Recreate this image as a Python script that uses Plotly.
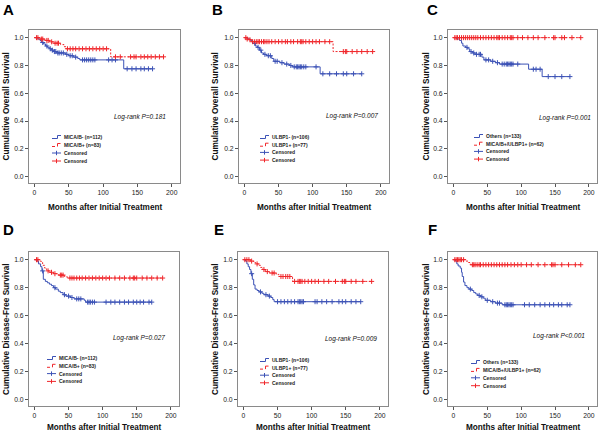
import plotly.graph_objects as go

W, H = 600, 432

# ---------------- data ----------------
month_ticks = [0, 50, 100, 150, 200]
surv_ticks = [0.0, 0.2, 0.4, 0.6, 0.8, 1.0]

os_title = "Cumulative Overall Survival"
dfs_title = "Cumulative Disease-Free Survival"
x_title = "Months after Initial Treatment"
panel_letters = ["A", "B", "C", "D", "E", "F"]
logrank_texts = ["Log-rank P=0.181", "Log-rank P=0.007", "Log-rank P=0.001",
                 "Log-rank P=0.027", "Log-rank P=0.009", "Log-rank P<0.001"]

mica_labels = ["MICA/B- (n=112)", "MICA/B+ (n=83)"]
ulbp_labels = ["ULBP1- (n=106)", "ULBP1+ (n=77)"]
combo_labels = ["Others (n=133)", "MICA/B+/ULBP1+ (n=62)"]

# Panel A (OS, MICA/B)
A_neg_t = [5, 8, 10, 13, 16, 19, 22, 25, 28, 32, 45, 50, 57, 63, 66, 130]
A_neg_s = [0.99, 0.98, 0.965, 0.955, 0.94, 0.93, 0.92, 0.91, 0.90, 0.89, 0.88, 0.87, 0.86, 0.85, 0.84, 0.776]
A_neg_c = [12, 18, 23, 26, 29, 31, 34, 36, 39, 42, 47, 52, 55, 60, 70, 73, 76, 79, 82, 85, 88, 108, 113, 118,
           135, 142, 148, 155, 160, 166, 172]
A_pos_t = [8, 15, 22, 28, 38, 43, 46, 111]
A_pos_s = [0.99, 0.98, 0.97, 0.96, 0.95, 0.935, 0.92, 0.862]
A_pos_c = [3, 5, 10, 12, 18, 20, 25, 30, 33, 35, 48, 52, 56, 60, 65, 70, 75, 80, 85, 90, 95, 100, 105,
           118, 125, 140, 145, 148, 155, 160, 165, 170, 176, 182, 188]

# Panel B (OS, ULBP1)
B_neg_t = [5, 9, 12, 16, 19, 22, 25, 28, 32, 40, 43, 52, 58, 66, 70, 111]
B_neg_s = [0.99, 0.98, 0.96, 0.94, 0.93, 0.91, 0.89, 0.88, 0.87, 0.85, 0.83, 0.82, 0.81, 0.80, 0.79, 0.74]
B_neg_c = [15, 20, 24, 30, 35, 38, 45, 48, 55, 62, 68, 73, 76, 78, 80, 82, 84, 87, 90, 105,
           115, 125, 135, 145, 150, 160, 172]
B_pos_t = [3, 6, 10, 130]
B_pos_s = [0.99, 0.985, 0.971, 0.90]
B_pos_c = [2, 4, 8, 12, 15, 18, 20, 22, 25, 28, 30, 33, 36, 40, 45, 50, 55, 60, 63, 68, 72, 78, 82, 84,
           86, 90, 95, 100, 105, 110, 118, 125, 145, 148, 150, 158, 165, 172, 180, 188]

# Panel C (OS, combined)
C_neg_t = [5, 9, 12, 14, 18, 21, 24, 28, 32, 42, 45, 55, 62, 68, 111, 131]
C_neg_s = [0.99, 0.98, 0.96, 0.94, 0.93, 0.92, 0.90, 0.89, 0.88, 0.86, 0.84, 0.83, 0.82, 0.81, 0.773, 0.72]
C_neg_c = [20, 26, 30, 34, 38, 40, 48, 52, 58, 65, 72, 75, 78, 80, 82, 84, 86, 88, 95,
           118, 122, 128, 140, 150, 160, 172]
C_pos_t = []
C_pos_s = []
C_pos_c = [2, 4, 6, 9, 12, 15, 18, 21, 24, 27, 30, 33, 36, 40, 44, 48, 52, 56, 60, 64, 66, 68, 72, 76,
           80, 84, 86, 88, 95, 102, 110, 118, 125, 135, 148, 150, 160, 164, 175, 188]

# Panel D (DFS, MICA/B)
D_neg_t = [4, 6, 9, 11, 13, 16, 19, 22, 25, 28, 31, 35, 38, 42, 46, 53, 58, 73, 75]
D_neg_s = [0.99, 0.97, 0.95, 0.92, 0.86, 0.845, 0.835, 0.825, 0.815, 0.80, 0.79, 0.775, 0.765, 0.75,
           0.74, 0.73, 0.72, 0.71, 0.697]
D_neg_c = [12, 30, 44, 50, 55, 62, 65, 68, 78, 80, 82, 85, 88, 105, 112, 118, 125, 132, 138, 145,
           150, 155, 160, 168, 172]
D_pos_t = [8, 10, 12, 15, 18, 22, 28, 35, 44, 48]
D_pos_s = [0.99, 0.98, 0.96, 0.94, 0.92, 0.91, 0.90, 0.89, 0.88, 0.869]
D_pos_c = [3, 5, 20, 25, 30, 38, 40, 42, 52, 55, 58, 62, 66, 70, 75, 80, 85, 90, 95, 100, 105, 110,
           118, 125, 132, 140, 145, 147, 150, 158, 165, 172, 180, 188]

# Panel E (DFS, ULBP1)
E_neg_t = [3, 5, 7, 9, 11, 13, 15, 17, 20, 23, 27, 30, 36, 40, 43, 45]
E_neg_s = [0.99, 0.97, 0.95, 0.93, 0.90, 0.86, 0.82, 0.79, 0.78, 0.77, 0.76, 0.75, 0.74, 0.73, 0.715, 0.70]
E_neg_c = [12, 25, 33, 38, 50, 55, 60, 65, 70, 75, 80, 82, 84, 86, 88, 105, 108, 115, 122, 130,
           140, 145, 150, 158, 165, 172]
E_pos_t = [10, 15, 18, 22, 25, 28, 32, 38, 48, 52, 72]
E_pos_s = [0.99, 0.98, 0.97, 0.96, 0.945, 0.93, 0.915, 0.905, 0.895, 0.88, 0.845]
E_pos_c = [2, 5, 8, 12, 20, 30, 35, 42, 45, 55, 58, 62, 65, 68, 75, 80, 82, 84, 86, 90, 95, 100,
           105, 110, 118, 125, 135, 145, 148, 150, 158, 165, 175, 188]

# Panel F (DFS, combined)
F_neg_t = [3, 5, 7, 10, 12, 13, 15, 17, 20, 23, 27, 30, 33, 36, 40, 44, 47, 55, 62, 72]
F_neg_s = [0.99, 0.97, 0.955, 0.94, 0.91, 0.88, 0.84, 0.815, 0.80, 0.79, 0.78, 0.765, 0.755, 0.745,
           0.735, 0.725, 0.71, 0.70, 0.69, 0.678]
F_neg_c = [25, 38, 42, 50, 58, 65, 68, 76, 78, 80, 82, 84, 86, 88, 105, 112, 120, 128, 135, 142,
           148, 155, 160, 168, 172]
F_pos_t = [18, 22, 25]
F_pos_s = [0.99, 0.98, 0.964]
F_pos_c = [2, 4, 6, 8, 10, 12, 15, 28, 30, 32, 35, 38, 40, 44, 48, 52, 56, 60, 64, 68, 72, 76, 80,
           85, 90, 95, 100, 108, 115, 125, 135, 145, 147, 150, 160, 170, 180, 188]

# ---------------- styling / layout ----------------
BLUE = "#3c52b6"
RED = "#f0272b"
FONT = "Liberation Sans, Arial, sans-serif"

# plot boxes in pixels: (left, right, top, bottom)
boxes = [(29, 180, 30, 183), (239, 389, 30, 183), (448, 597, 30, 183),
         (29, 179, 252, 406), (238, 388, 252, 406), (448, 597, 252, 406)]
ytitle_x = [6, 215, 426, 6, 215, 426]
xtitle_y = [207, 207, 207, 427.5, 427.5, 427.5]
letter_pos = [(1, 9), (210, 9), (425, 9), (1, 229), (212, 229), (426, 229)]
logrank_pos = [(168, 117.5), (380, 116), (593, 118), (167, 337.7), (379, 338.7), (587, 336)]
legend_pos = [(52, 137, 8.0), (260, 137, 7.7), (474, 136, 7.7),
              (47, 358, 7.8), (260, 360, 7.6), (471, 362, 7.9)]

panels = [
    (A_neg_t, A_neg_s, A_neg_c, A_pos_t, A_pos_s, A_pos_c, mica_labels, os_title),
    (B_neg_t, B_neg_s, B_neg_c, B_pos_t, B_pos_s, B_pos_c, ulbp_labels, os_title),
    (C_neg_t, C_neg_s, C_neg_c, C_pos_t, C_pos_s, C_pos_c, combo_labels, os_title),
    (D_neg_t, D_neg_s, D_neg_c, D_pos_t, D_pos_s, D_pos_c, mica_labels, dfs_title),
    (E_neg_t, E_neg_s, E_neg_c, E_pos_t, E_pos_s, E_pos_c, ulbp_labels, dfs_title),
    (F_neg_t, F_neg_s, F_neg_c, F_pos_t, F_pos_s, F_pos_c, combo_labels, dfs_title),
]


def px_x(p):
    return p / W


def px_y(p):
    return 1 - p / H


def surv_at(t, ev_t, ev_s):
    s = 1.0
    for et, es in zip(ev_t, ev_s):
        if et <= t:
            s = es
    return s


fig = go.Figure()
layout = dict(width=W, height=H, margin=dict(l=0, r=0, t=0, b=0),
              paper_bgcolor="white", plot_bgcolor="white", showlegend=False,
              font=dict(family=FONT, color="#222"))
annotations = []
shapes = []

for i, (nt, ns, nc, pt, ps, pc, labels, ytitle) in enumerate(panels):
    k = "" if i == 0 else str(i + 1)
    xa, ya = "x" + k, "y" + k
    l, r, t, b = boxes[i]
    axis_common = dict(showline=True, linecolor="#8a8a8a", linewidth=1, mirror=True,
                       ticks="outside", ticklen=3, tickcolor="#555", tickwidth=1,
                       showgrid=False, zeroline=False, fixedrange=True,
                       tickfont=dict(size=6.8, family=FONT, color="#222"))
    layout["xaxis" + k] = dict(domain=[px_x(l), px_x(r)], anchor=ya, range=[-8, 212],
                               tickvals=month_ticks, **axis_common)
    layout["yaxis" + k] = dict(domain=[px_y(b), px_y(t)], anchor=xa, range=[-0.045, 1.055],
                               tickvals=surv_ticks, tickformat=".1f", **axis_common)

    for ev_t, ev_s, cens, color, dash, end in [(nt, ns, nc, BLUE, "solid", max(nc)),
                                               (pt, ps, pc, RED, "2px,1.5px", max(pc))]:
        xs = [0] + list(ev_t) + [end]
        ys = [1.0] + list(ev_s) + [ev_s[-1] if ev_s else 1.0]
        fig.add_trace(go.Scatter(x=xs, y=ys, mode="lines", xaxis=xa, yaxis=ya,
                                 line=dict(color=color, width=1, dash=dash, shape="hv"),
                                 hoverinfo="skip"))
        fig.add_trace(go.Scatter(x=cens, y=[surv_at(c, ev_t, ev_s) for c in cens],
                                 mode="markers", xaxis=xa, yaxis=ya,
                                 marker=dict(symbol="cross-thin", size=3.6,
                                             line=dict(color=color, width=1)),
                                 hoverinfo="skip"))

    # axis titles
    annotations.append(dict(x=px_x(ytitle_x[i]), y=px_y((t + b) / 2), xref="paper", yref="paper",
                            text="<b>%s</b>" % ytitle, textangle=-90, showarrow=False,
                            xanchor="center", yanchor="middle",
                            font=dict(size=8.2, family=FONT, color="#111")))
    annotations.append(dict(x=px_x((l + r) / 2), y=px_y(xtitle_y[i]), xref="paper", yref="paper",
                            text="<b>%s</b>" % x_title, showarrow=False,
                            xanchor="center", yanchor="middle",
                            font=dict(size=8.2, family=FONT, color="#111")))
    # panel letter
    lx, ly = letter_pos[i]
    annotations.append(dict(x=px_x(lx), y=px_y(ly), xref="paper", yref="paper",
                            text="<b>%s</b>" % panel_letters[i], showarrow=False,
                            xanchor="left", yanchor="middle",
                            font=dict(size=15, family=FONT, color="#000")))
    # log-rank
    gx, gy = logrank_pos[i]
    annotations.append(dict(x=px_x(gx), y=px_y(gy), xref="paper", yref="paper",
                            text="<i>%s</i>" % logrank_texts[i], showarrow=False,
                            xanchor="right", yanchor="middle",
                            font=dict(size=6.5, family=FONT, color="#111")))
    # legend
    lgx, lgy, step = legend_pos[i]
    names = [labels[0], labels[1], "Censored", "Censored"]
    for j, name in enumerate(names):
        ry = lgy + j * step
        color = BLUE if j % 2 == 0 else RED
        dash = "solid" if j != 1 else "dot"
        if j < 2:
            segs = [(lgx, ry + 1.5, lgx + 5.5, ry + 1.5), (lgx + 5.5, ry + 1.5, lgx + 5.5, ry - 1.5),
                    (lgx + 5.5, ry - 1.5, lgx + 9, ry - 1.5)]
        else:
            segs = [(lgx, ry, lgx + 9, ry), (lgx + 4.5, ry - 2.2, lgx + 4.5, ry + 2.2)]
        for (x0, y0, x1, y1) in segs:
            shapes.append(dict(type="line", xref="paper", yref="paper",
                               x0=px_x(x0), y0=px_y(y0), x1=px_x(x1), y1=px_y(y1),
                               line=dict(color=color, width=1, dash=dash)))
        annotations.append(dict(x=px_x(lgx + 10), y=px_y(ry), xref="paper", yref="paper",
                                text="<b>%s</b>" % name, showarrow=False,
                                xanchor="left", yanchor="middle",
                                font=dict(size=5, family=FONT, color="#222")))

layout["annotations"] = annotations
layout["shapes"] = shapes
fig.update_layout(**layout)
fig.write_html("out.html", config={"displayModeBar": False, "staticPlot": True},
               post_script="document.body.style.margin='0';document.body.style.overflow='hidden';")
